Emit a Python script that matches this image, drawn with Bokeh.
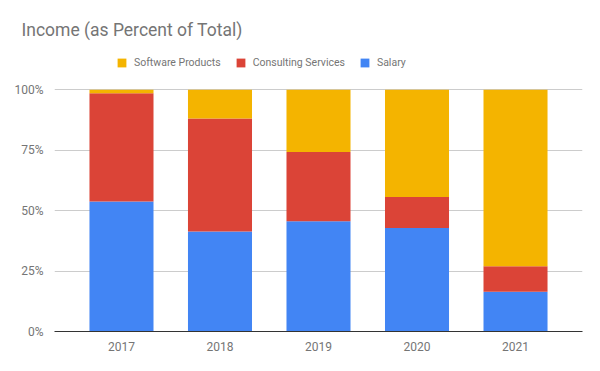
from bokeh.plotting import figure
from bokeh.models import FactorRange, Range1d, FixedTicker, NumeralTickFormatter, Legend, LegendItem, ColumnDataSource
from bokeh.embed import file_html
from bokeh.resources import INLINE

years = ["2017", "2018", "2019", "2020", "2021"]
salary = [53.8, 41.4, 45.6, 42.8, 16.4]
consulting = [44.7, 46.7, 28.6, 12.8, 10.6]
software = [1.5, 11.9, 25.8, 44.4, 73.0]
series = ["Salary", "Consulting Services", "Software Products"]
colors = ["#4285F4", "#DB4437", "#F4B400"]
y_ticks = [0, 0.25, 0.5, 0.75, 1.0]

src = ColumnDataSource(dict(
    years=years,
    **{"Salary": [v / 100 for v in salary],
       "Consulting Services": [v / 100 for v in consulting],
       "Software Products": [v / 100 for v in software]}))

FONT = "Roboto"
GRAY = "#757575"

# frame extends above 100% to leave room for the legend inside the frame
p = figure(width=584, height=355, output_backend="svg", toolbar_location=None,
           x_range=FactorRange(*years, range_padding=0.072, range_padding_units="percent"),
           y_range=Range1d(0, 1.183),
           min_border_left=54, min_border_right=2, min_border_bottom=24, min_border_top=45)

rs = p.vbar_stack(series, x="years", width=0.65, source=src, color=colors, line_color=None)

p.title.text = "Income (as Percent of Total)"
p.title.text_font = FONT
p.title.text_font_size = "17.5px"
p.title.text_font_style = "normal"
p.title.text_color = GRAY
p.title.offset = -33
p.title.standoff = 12

legend = Legend(items=[LegendItem(label=series[i], renderers=[rs[i]]) for i in (2, 1, 0)],
                orientation="horizontal", location=(62, 262),
                label_text_font=FONT, label_text_font_size="10.5px", label_text_color=GRAY,
                glyph_width=11, glyph_height=11, spacing=14, label_standoff=7,
                border_line_color=None, background_fill_alpha=0, padding=0, margin=0)
p.add_layout(legend, "center")

p.outline_line_color = None
p.xgrid.grid_line_color = None
p.ygrid.grid_line_color = "#cccccc"
p.ygrid.ticker = FixedTicker(ticks=y_ticks)

p.yaxis.ticker = FixedTicker(ticks=y_ticks)
p.yaxis.formatter = NumeralTickFormatter(format="0%")
p.yaxis.axis_line_color = None
p.yaxis.major_tick_line_color = None
p.yaxis.minor_tick_line_color = None
p.yaxis.major_label_text_font = FONT
p.yaxis.major_label_text_font_size = "12px"
p.yaxis.major_label_text_color = GRAY
p.yaxis.major_label_standoff = 5

p.xaxis.axis_line_color = "#333333"
p.xaxis.major_tick_line_color = None
p.xaxis.minor_tick_line_color = None
p.xaxis.major_label_text_font = FONT
p.xaxis.major_label_text_font_size = "12px"
p.xaxis.major_label_text_color = GRAY
p.xaxis.major_label_standoff = 4

open("out.html", "w").write(file_html(p, INLINE))
